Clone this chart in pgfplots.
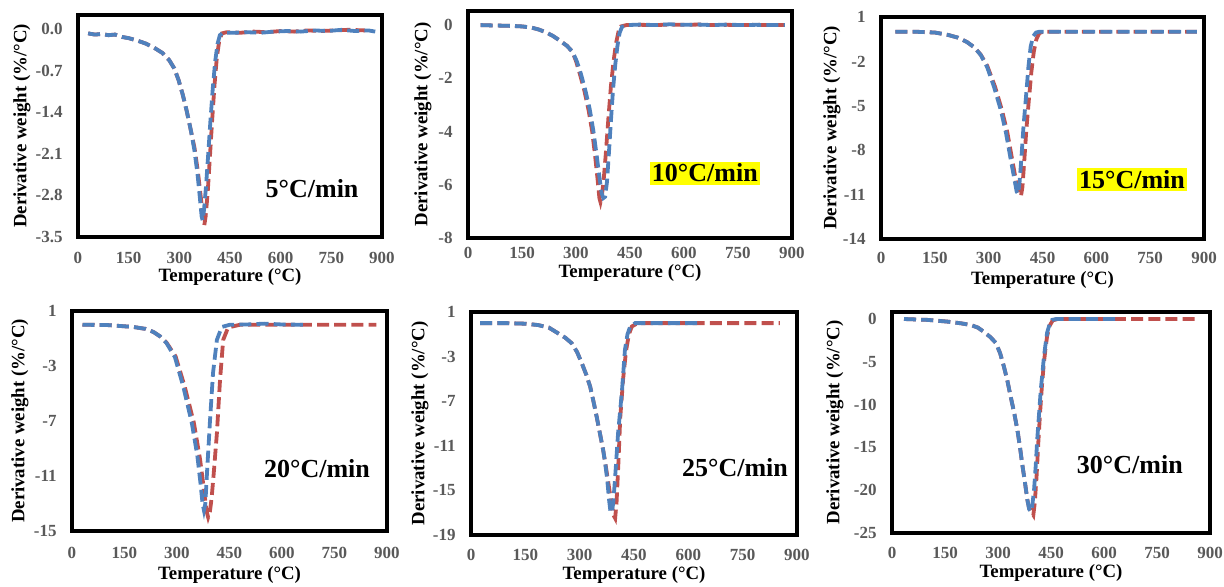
\documentclass[border=0pt]{standalone}
\usepackage{pgfplots}
\pgfplotsset{compat=1.18}
\usepackage{fontspec}
\setmainfont{Liberation Serif}

\definecolor{dtgblue}{RGB}{79,129,189}
\definecolor{dtgred}{RGB}{192,80,77}
\definecolor{tickgray}{RGB}{89,89,89}
\definecolor{hl}{RGB}{255,255,0}

\newcommand\tickfont{\fontsize{8.5bp}{9bp}\selectfont\bfseries}
\newcommand\labfont{\fontsize{9.4bp}{10bp}\selectfont\bfseries}
\newcommand\ratefont{\fontsize{13bp}{14bp}\selectfont\bfseries}

% #1 = y-label offset, #2 = x tick label offset, #3 = x-label offset
\pgfplotsset{
  panel/.style n args={3}{
    scale only axis,
    anchor=south west,
    xmin=0, xmax=900,
    xtick={0,150,300,450,600,750,900},
    xticklabels={0,150,300,450,600,750,900},
    axis line style={line width=1.8bp, black},
    major tick length=0pt,
    tick label style={font=\tickfont, text=tickgray},
    xticklabel style={anchor=center, inner sep=0pt, yshift=-#2},
    yticklabel style={anchor=east, inner sep=0pt, xshift=-7.5bp},
    xlabel={Temperature (°C)},
    ylabel={Derivative weight (\%/°C)},
    every axis x label/.style={at={(rel axis cs:0.5,0)}, yshift=-#3,
      anchor=center, inner sep=0pt, font=\labfont},
    every axis y label/.style={at={(rel axis cs:0,0.5)}, xshift=-#1,
      rotate=90, anchor=center, inner sep=0pt, font=\labfont},
  },
  red curve/.style={color=dtgred, line width=1.9bp,
    dash pattern=on 6bp off 2.6bp},
  blue curve/.style={color=dtgblue, line width=1.9bp,
    dash pattern=on 6bp off 2.6bp},
}

\begin{document}
\begin{tikzpicture}
\useasboundingbox (0,0) rectangle (612bp,293.5bp);

% ---------------- 5 C/min ----------------
\begin{axis}[panel={28bp}{10.5bp}{20bp},
  at={(39bp,175bp)}, width=152bp, height=111bp,
  ymin=-3.5, ymax=0.24,
  ytick={-3.5,-2.8,-2.1,-1.4,-0.7,0},
  yticklabels={-3.5,-2.8,-2.1,-1.4,-0.7,0.0}]
\addplot[red curve] coordinates {
(30,-0.07) (50,-0.09) (70,-0.08) (90,-0.10) (110,-0.09) (130,-0.13)
(150,-0.15) (175,-0.19) (200,-0.24) (225,-0.31) (250,-0.40) (270,-0.52)
(285,-0.66) (298,-0.86) (310,-1.10) (322,-1.38) (334,-1.70) (345,-2.00)
(355,-2.40) (363,-2.80) (369,-3.10) (374,-3.30) (378,-3.15) (384,-2.75)
(390,-2.20) (397,-1.55) (404,-0.95) (411,-0.48) (418,-0.20) (426,-0.07)
(440,-0.05) (480,-0.06) (520,-0.04) (560,-0.05) (600,-0.03) (640,-0.04)
(680,-0.02) (720,-0.03) (760,-0.02) (800,-0.01) (850,-0.02)};
\addplot[blue curve] coordinates {
(30,-0.07) (50,-0.09) (70,-0.08) (90,-0.10) (110,-0.09) (130,-0.13)
(150,-0.15) (175,-0.19) (200,-0.24) (225,-0.31) (250,-0.40) (270,-0.52)
(285,-0.66) (298,-0.86) (310,-1.10) (322,-1.38) (334,-1.70) (345,-2.05)
(354,-2.45) (361,-2.85) (366,-3.15) (369,-3.22) (373,-3.05) (379,-2.65)
(385,-2.15) (392,-1.55) (399,-1.00) (406,-0.55) (413,-0.25) (420,-0.10)
(430,-0.06) (460,-0.06) (500,-0.05) (540,-0.06) (580,-0.04) (620,-0.03)
(660,-0.04) (700,-0.02) (740,-0.03) (780,-0.01) (820,-0.03) (860,-0.02)
(880,-0.04)};
\node[font=\ratefont] at (rel axis cs:0.77,0.22) {5°C/min};
\end{axis}

% ---------------- 10 C/min ----------------
\begin{axis}[panel={22.5bp}{7.5bp}{17.5bp},
  at={(234bp,174.5bp)}, width=162bp, height=113.5bp,
  ymin=-8, ymax=0.53,
  ytick={-8,-6,-4,-2,0},
  yticklabels={-8,-6,-4,-2,0}]
\addplot[red curve] coordinates {
(35,0.00) (60,-0.01) (90,-0.02) (120,-0.03) (150,-0.05) (175,-0.09)
(195,-0.16) (215,-0.26) (235,-0.40) (255,-0.58) (275,-0.78) (290,-1.00)
(300,-1.35) (311,-1.85) (323,-2.45) (335,-3.20) (345,-4.00) (353,-4.90)
(360,-5.80) (365,-6.50) (368,-6.65) (372,-6.40) (377,-5.80) (383,-4.80)
(390,-3.50) (397,-2.30) (404,-1.40) (411,-0.70) (418,-0.25) (425,-0.05)
(440,0.00) (480,0.01) (520,0.00) (560,0.02) (600,0.01) (640,0.02)
(680,0.00) (720,0.01) (760,0.00) (800,0.01) (840,0.00) (880,0.00)};
\addplot[blue curve] coordinates {
(35,0.00) (60,-0.01) (90,-0.02) (120,-0.03) (150,-0.05) (175,-0.09)
(195,-0.16) (215,-0.26) (235,-0.40) (255,-0.58) (275,-0.78) (290,-1.00)
(302,-1.35) (314,-1.85) (326,-2.45) (338,-3.15) (348,-3.95) (357,-4.85)
(365,-5.70) (371,-6.30) (376,-6.50) (381,-6.45) (386,-5.90) (391,-4.90)
(397,-3.60) (403,-2.40) (409,-1.50) (415,-0.80) (421,-0.30) (428,-0.06)
(440,0.00) (480,0.02) (520,0.00) (560,0.03) (600,0.01) (640,0.02)
(680,0.00) (720,0.02) (760,0.00) (800,0.01) (840,0.00) (880,0.00)};
\node[font=\ratefont, fill=hl, inner sep=1.2bp] at (rel axis cs:0.731,0.286) {10°C/min};
\end{axis}

% ---------------- 15 C/min ----------------
\begin{axis}[panel={24.5bp}{9.5bp}{20.5bp},
  at={(440.5bp,174bp)}, width=161.5bp, height=111bp,
  ymin=-14, ymax=1,
  ytick={-14,-11,-8,-5,-2,1},
  yticklabels={-14,-11,-8,-5,-2,1}]
\addplot[red curve] coordinates {
(40,0.00) (100,0.00) (150,-0.05) (185,-0.20) (215,-0.40) (240,-0.70)
(260,-1.05) (278,-1.55) (296,-2.30) (318,-3.73) (337,-5.30) (352,-6.80)
(366,-8.70) (377,-10.20) (385,-10.90) (390,-11.10) (394,-10.50) (399,-8.80)
(405,-6.60) (412,-4.60) (419,-2.70) (426,-1.30) (433,-0.50) (441,-0.10)
(450,0.00) (880,0.00)};
\addplot[blue curve] coordinates {
(40,0.00) (100,0.00) (150,-0.05) (185,-0.20) (215,-0.40) (240,-0.70)
(260,-1.05) (278,-1.57) (296,-2.40) (315,-3.73) (334,-5.30) (348,-6.80)
(362,-8.70) (372,-10.00) (378,-10.80) (382,-10.95) (386,-10.20) (391,-8.60)
(397,-6.40) (404,-4.40) (411,-2.30) (417,-1.00) (424,-0.30) (432,-0.05)
(440,0.00) (880,0.00)};
\node[font=\ratefont, fill=hl, inner sep=1.2bp] at (rel axis cs:0.777,0.266) {15°C/min};
\end{axis}

% ---------------- 20 C/min ----------------
\begin{axis}[panel={26bp}{11bp}{22bp},
  at={(36bp,28bp)}, width=157.5bp, height=110bp,
  ymin=-15, ymax=1,
  ytick={-15,-11,-7,-3,1},
  yticklabels={-15,-11,-7,-3,1}]
\addplot[red curve] coordinates {
(30,0.00) (100,-0.02) (175,-0.16) (210,-0.30) (233,-0.53) (252,-0.85)
(270,-1.30) (296,-2.30) (322,-4.50) (348,-7.10) (366,-9.80) (377,-12.00)
(384,-13.50) (389,-14.00) (394,-13.60) (399,-12.60) (405,-10.80)
(414,-7.90) (423,-4.00) (432,-1.10) (446,-0.20) (480,0.00) (600,0.00)
(750,0.00) (870,0.00)};
\addplot[blue curve] coordinates {
(30,0.00) (100,-0.02) (175,-0.16) (210,-0.30) (233,-0.53) (252,-0.85)
(270,-1.33) (294,-2.35) (318,-4.50) (342,-7.10) (358,-9.50) (367,-11.50)
(373,-13.00) (377,-13.50) (381,-13.00) (385,-11.10) (394,-7.10)
(403,-3.50) (414,-1.10) (428,-0.16) (451,0.00) (500,0.02) (550,0.08)
(600,0.02) (660,0.00)};
\node[font=\ratefont] at (rel axis cs:0.778,0.282) {20°C/min};
\end{axis}

% ---------------- 25 C/min ----------------
\begin{axis}[panel={25.5bp}{10bp}{20bp},
  at={(235.5bp,26bp)}, width=163bp, height=111.5bp,
  ymin=-19, ymax=1,
  ytick={-19,-15,-11,-7,-3,1},
  yticklabels={-19,-15,-11,-7,-3,1}]
\addplot[red curve] coordinates {
(25,0.00) (100,0.00) (150,-0.05) (185,-0.17) (215,-0.40) (240,-0.90)
(260,-1.30) (278,-1.80) (293,-2.60) (306,-3.60) (318,-4.60) (329,-5.70)
(338,-7.00) (347,-8.40) (356,-9.90) (365,-11.40) (372,-12.80) (380,-14.50)
(387,-16.00) (393,-17.20) (398,-17.50) (402,-16.00) (407,-12.50)
(412,-8.50) (420,-5.00) (428,-2.50) (436,-1.00) (444,-0.30) (460,0.00)
(600,0.00) (853,0.00)};
\addplot[blue curve] coordinates {
(25,0.00) (100,0.00) (150,-0.05) (185,-0.17) (215,-0.40) (240,-0.90)
(260,-1.30) (278,-1.80) (293,-2.60) (306,-3.60) (318,-4.60) (329,-5.70)
(338,-7.00) (347,-8.40) (356,-9.90) (365,-11.40) (371,-12.70) (376,-14.00)
(381,-15.80) (385,-16.90) (389,-17.00) (393,-16.00) (398,-13.80)
(406,-9.90) (417,-6.00) (425,-2.40) (432,-1.00) (439,-0.35) (453,0.00)
(637,0.00)};
\node[font=\ratefont] at (rel axis cs:0.81,0.30) {25°C/min};
\end{axis}

% ---------------- 30 C/min ----------------
\begin{axis}[panel={28.5bp}{10bp}{20bp},
  at={(446bp,27bp)}, width=159bp, height=110.5bp,
  ymin=-25, ymax=0.82,
  ytick={-25,-20,-15,-10,-5,0},
  yticklabels={-25,-20,-15,-10,-5,0}]
\addplot[red curve] coordinates {
(34,0.00) (100,-0.10) (156,-0.30) (195,-0.50) (223,-0.70) (243,-1.00)
(260,-1.50) (278,-2.10) (294,-2.80) (306,-4.00) (317,-5.60) (327,-7.30)
(336,-9.10) (346,-11.00) (355,-13.00) (362,-14.90) (368,-16.80)
(376,-19.00) (383,-21.10) (388,-22.10) (393,-22.30) (397,-22.70)
(400,-22.90) (404,-21.50) (409,-18.50) (414,-14.50) (419,-11.00)
(424,-8.00) (429,-5.50) (434,-3.60) (439,-2.00) (446,-0.80) (455,-0.15)
(470,0.00) (650,0.00) (860,0.00)};
\addplot[blue curve] coordinates {
(34,0.00) (100,-0.10) (156,-0.30) (195,-0.50) (223,-0.70) (243,-1.00)
(260,-1.50) (278,-2.10) (294,-2.80) (306,-4.00) (317,-5.60) (327,-7.30)
(336,-9.10) (346,-11.00) (355,-13.00) (362,-14.90) (368,-16.80)
(376,-19.00) (383,-21.10) (388,-22.20) (393,-22.50) (397,-21.80)
(402,-20.00) (407,-17.00) (411,-14.10) (416,-11.20) (421,-8.30)
(426,-6.20) (430,-4.40) (435,-2.80) (439,-1.60) (446,-0.60) (453,-0.10)
(465,0.00) (637,0.00)};
\node[font=\ratefont] at (rel axis cs:0.748,0.308) {30°C/min};
\end{axis}
\end{tikzpicture}
\end{document}
